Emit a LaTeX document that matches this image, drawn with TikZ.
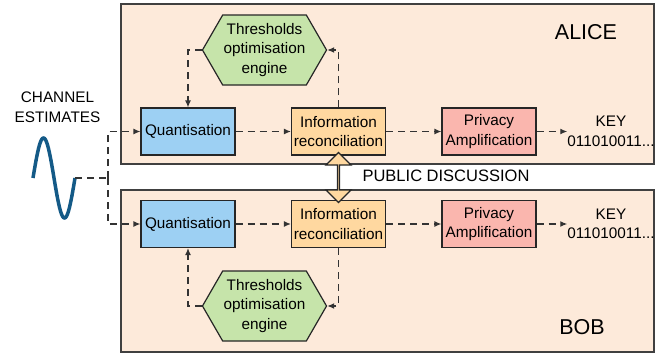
\documentclass[tikz,border=0pt]{standalone}
\usepackage{fontspec}
\setmainfont{Liberation Sans}
\usetikzlibrary{arrows.meta,shapes.symbols,shapes.arrows}

\definecolor{panelfill}{RGB}{253,234,218}
\definecolor{quantfill}{RGB}{157,208,243}
\definecolor{recfill}{RGB}{255,216,160}
\definecolor{privfill}{RGB}{250,182,174}
\definecolor{hexfill}{RGB}{198,228,170}
\definecolor{wavecol}{RGB}{20,90,135}
\definecolor{linkcol}{RGB}{51,51,51}

\tikzset{
  panel/.style={draw=black!75, line width=1.3pt, fill=panelfill, minimum width=533pt, inner sep=0pt},
  block/.style={draw=black!85, line width=1.2pt, minimum width=94pt, minimum height=47pt, inner sep=1pt, align=center},
  engine/.style={signal, signal to=west and east, signal pointer angle=120, draw=black!85, line width=1.2pt,
    fill=hexfill, minimum width=123pt, minimum height=70pt, inner sep=1pt, align=center},
  link/.style={draw=linkcol, line width=1.2pt, dash pattern=on 7pt off 5pt, -{Latex[length=7pt,width=6pt]}},
  bigname/.style={font=\fontsize{21.5}{24}\selectfont},
}

\begin{document}
\begin{tikzpicture}[x=1pt,y=1pt,font=\fontsize{15.3}{19.5}\selectfont]
  \useasboundingbox (0,0) rectangle (669,-354);

  % the two parties
  \node[panel, minimum height=160pt] (alice) at (387.5,-84) {};
  \node[panel, minimum height=162pt] (bob) at (387.5,-271) {};
  \node[bigname] (alicename) at (586,-32) {ALICE};
  \node[bigname] (bobname) at (582,-327.5) {BOB};

  % Alice
  \node[block, fill=quantfill] (qa) at (188,-131.5) {Quantisation};
  \node[block, fill=recfill] (ira) at (338.5,-131.5) {Information\\reconciliation};
  \node[block, fill=privfill] (paa) at (489,-131.5) {Privacy\\Amplification};
  \node[inner sep=0pt, align=center] (keya) at (611,-131.5) {KEY\\011010011...};
  \node[engine] (hexa) at (264.5,-50) {Thresholds\\optimisation\\engine};

  % Bob
  \node[block, fill=quantfill] (qb) at (188,-224) {Quantisation};
  \node[block, fill=recfill] (irb) at (338.5,-224) {Information\\reconciliation};
  \node[block, fill=privfill] (pab) at (489,-224) {Privacy\\Amplification};
  \node[inner sep=0pt, align=center] (keyb) at (611,-224) {KEY\\011010011...};
  \node[engine] (hexb) at (264.5,-306) {Thresholds\\optimisation\\engine};

  % public channel between the two
  \node[double arrow, rotate=90, draw=black!85, line width=1.2pt, fill=recfill, inner sep=0pt,
    minimum height=50pt, minimum width=25pt, double arrow head extend=6.5pt] (pub) at (338.5,-177.5) {};
  \node[font=\fontsize{16.5}{18}\selectfont] (publabel) at (446,-176) {PUBLIC DISCUSSION};

  % channel estimates
  \node[align=center] (chan) at (57.5,-107) {CHANNEL\\ESTIMATES};
  \draw[wavecol, line width=3.5pt] plot[domain=0:360, samples=73, smooth] ({33+42*\x/360},{-178+40*sin(\x)});
  \coordinate (wave) at (75,-178);
  \coordinate (split) at (108,-178);

  \draw[link, -] (wave) -- (split);
  \draw[link] (split) |- (qa.west);
  \draw[link] (split) |- (qb.west);
  \foreach \p in {a,b} {
    \draw[link] (q\p) -- (ir\p);
    \draw[link] (ir\p) -- (pa\p);
    \draw[link] (pa\p) -- (key\p);
  }
  \draw[link] (ira.north) |- (hexa.east);
  \draw[link] (hexa.west) -| (qa.north);
  \draw[link] (irb.south) |- (hexb.east);
  \draw[link] (hexb.west) -| (qb.south);
\end{tikzpicture}
\end{document}
